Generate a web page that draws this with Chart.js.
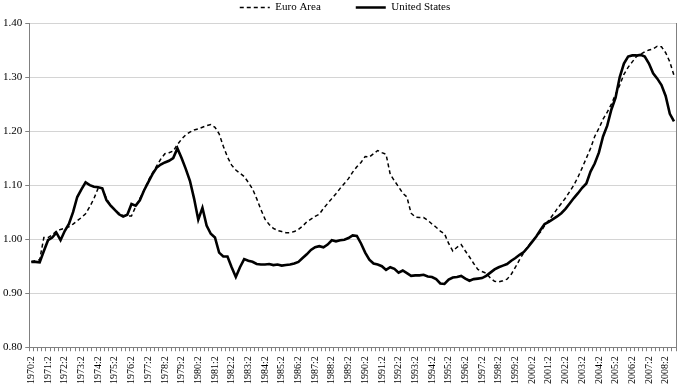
<!DOCTYPE html>
<html>
<head>
<meta charset="utf-8">
<script src="https://cdn.jsdelivr.net/npm/chart.js@4.4.1/dist/chart.umd.min.js"></script>
<style>
  html, body { margin: 0; padding: 0; background: #fff; }
  #wrap { width: 691px; height: 391px; }
</style>
</head>
<body>
<div id="wrap"><canvas id="grafico"></canvas></div>
<script>
// trimestres 1970:2 ... 2008:4
const trimestres = [];
for (let a = 1970; a <= 2008; a++) {
  for (let q = 1; q <= 4; q++) {
    if (a === 1970 && q === 1) continue;
    trimestres.push(a + ':' + q);
  }
}

const euroArea = [
  0.958, 0.960, 0.962, 1.003, 1.003, 1.008, 1.015, 1.018, 1.020, 1.023,
  1.028, 1.034, 1.040, 1.047, 1.060, 1.075, 1.094, 1.094, 1.075, 1.063,
  1.055, 1.048, 1.044, 1.043, 1.043, 1.060, 1.075, 1.090, 1.108, 1.122,
  1.135, 1.148, 1.158, 1.160, 1.163, 1.175, 1.185, 1.193, 1.198, 1.202,
  1.204, 1.207, 1.210, 1.212, 1.207, 1.195, 1.172, 1.152, 1.137, 1.128,
  1.122, 1.116, 1.105, 1.093, 1.075, 1.055, 1.037, 1.027, 1.020, 1.016,
  1.014, 1.012, 1.012, 1.014, 1.018, 1.024, 1.032, 1.037, 1.042, 1.046,
  1.057, 1.066, 1.075, 1.084, 1.094, 1.103, 1.112, 1.124, 1.134, 1.142,
  1.153, 1.152, 1.158, 1.164, 1.160, 1.157, 1.120, 1.108, 1.097, 1.085,
  1.078, 1.048, 1.041, 1.040, 1.040, 1.035, 1.028, 1.022, 1.015, 1.010,
  0.992, 0.978, 0.985, 0.990, 0.978, 0.967, 0.955, 0.944, 0.940, 0.937,
  0.928, 0.922, 0.921, 0.923, 0.926, 0.935, 0.948, 0.962, 0.975, 0.987,
  0.996, 1.005, 1.013, 1.025, 1.035, 1.045, 1.056, 1.066, 1.076, 1.088,
  1.100, 1.115, 1.132, 1.150, 1.168, 1.190, 1.205, 1.222, 1.235, 1.250,
  1.268, 1.285, 1.305, 1.318, 1.328, 1.338, 1.342, 1.347, 1.350, 1.352,
  1.357, 1.356, 1.345, 1.328, 1.303
];

const estadosUnidos = [
  0.958, 0.958, 0.957, 0.978, 0.998, 1.003, 1.012, 0.998, 1.015, 1.028,
  1.050, 1.078, 1.092, 1.105, 1.100, 1.097, 1.096, 1.094, 1.072, 1.062,
  1.054, 1.046, 1.042, 1.045, 1.065, 1.062, 1.072, 1.090, 1.105, 1.120,
  1.132, 1.138, 1.142, 1.145, 1.150, 1.168, 1.150, 1.130, 1.108, 1.075,
  1.036, 1.058, 1.025, 1.010, 1.003, 0.975, 0.968, 0.968, 0.948, 0.930,
  0.948, 0.963, 0.960, 0.958, 0.954, 0.953, 0.953, 0.954, 0.952, 0.953,
  0.951, 0.952, 0.953, 0.955, 0.958, 0.965, 0.972, 0.980, 0.985, 0.987,
  0.985, 0.990, 0.998, 0.996, 0.998, 0.999, 1.002, 1.007, 1.006, 0.992,
  0.975, 0.962, 0.955, 0.953, 0.950, 0.943, 0.948, 0.945, 0.938, 0.942,
  0.937, 0.932, 0.933, 0.933, 0.934, 0.931, 0.930, 0.926, 0.918, 0.917,
  0.925, 0.929, 0.930, 0.932, 0.927, 0.923, 0.926, 0.927, 0.928, 0.932,
  0.938, 0.944, 0.948, 0.951, 0.954, 0.960, 0.965, 0.971, 0.976, 0.985,
  0.995, 1.005, 1.017, 1.028, 1.032, 1.037, 1.042, 1.048, 1.056, 1.066,
  1.076, 1.085, 1.095, 1.103, 1.125, 1.140, 1.160, 1.190, 1.210, 1.240,
  1.262, 1.300, 1.325, 1.338, 1.340, 1.340, 1.341, 1.338, 1.325, 1.307,
  1.297, 1.285, 1.265, 1.232, 1.218
];

const fuente = 'Liberation Serif';
const ctx = document.getElementById('grafico').getContext('2d');

new Chart(ctx, {
  type: 'line',
  data: {
    labels: trimestres,
    datasets: [
      {
        label: 'Euro Area',
        data: euroArea,
        borderColor: '#000',
        backgroundColor: '#000',
        borderWidth: 1.5,
        borderDash: [4, 3],
        pointRadius: 0,
        tension: 0
      },
      {
        label: 'United States',
        data: estadosUnidos,
        borderColor: '#000',
        backgroundColor: '#000',
        borderWidth: 2.6,
        pointRadius: 0,
        tension: 0
      }
    ]
  },
  options: {
    responsive: true,
    maintainAspectRatio: false,
    animation: false,
    layout: { padding: { left: 0, right: 1, top: 0, bottom: 2 } },
    plugins: {
      tooltip: { enabled: false },
      legend: {
        position: 'top',
        labels: {
          color: '#000',
          font: { family: fuente, size: 11 },
          boxWidth: 30,
          boxHeight: 0,
          padding: 2,
          generateLabels: function(chart) {
            const items = Chart.defaults.plugins.legend.labels.generateLabels(chart);
            // hueco entre las dos entradas, como en el original
            items[0].text = items[0].text + '\u00a0'.repeat(12);
            return items;
          }
        }
      }
    },
    scales: {
      x: {
        offset: true,
        grid: {
          offset: true,
          drawOnChartArea: false,
          drawTicks: true,
          tickLength: 4,
          color: '#808080'
        },
        border: { color: '#808080', width: 1 },
        ticks: {
          autoSkip: false,
          maxRotation: 90,
          minRotation: 90,
          padding: 5,
          color: '#000',
          font: { family: fuente, size: 10 },
          callback: function(valor, indice) {
            const t = trimestres[indice];
            return t.endsWith(':2') ? t : '';
          }
        }
      },
      y: {
        min: 0.8,
        max: 1.4,
        grid: {
          color: '#d4d4d4',
          tickLength: 4,
          tickColor: '#808080'
        },
        border: { color: '#808080', width: 1 },
        ticks: {
          stepSize: 0.1,
          padding: 3,
          color: '#000',
          font: { family: fuente, size: 11 },
          callback: function(valor) { return valor.toFixed(2); }
        }
      },
      y2: {
        position: 'right',
        min: 0.8,
        max: 1.4,
        grid: { drawOnChartArea: false, drawTicks: false },
        border: { color: '#808080', width: 1 },
        ticks: { display: false }
      }
    }
  }
});
</script>
</body>
</html>
